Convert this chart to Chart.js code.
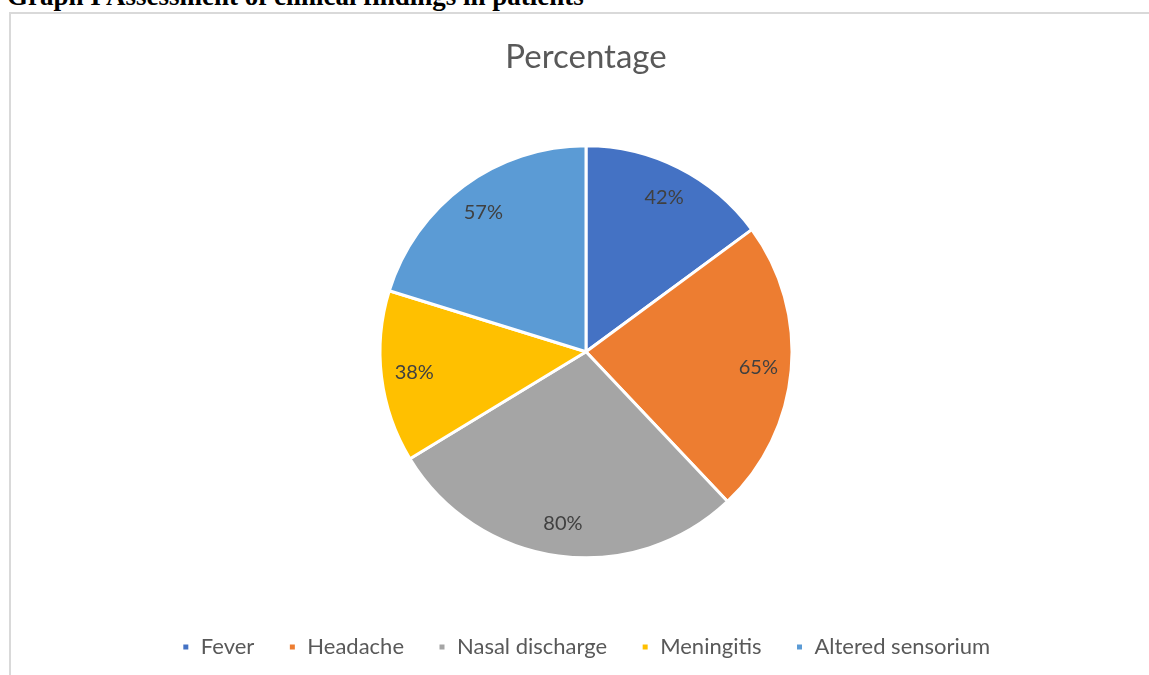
<!DOCTYPE html>
<html>
<head>
<meta charset="utf-8">
<script src="https://cdn.jsdelivr.net/npm/chart.js@4"></script>
<style>
  body { margin: 0; background: #fff; overflow: hidden; width: 1149px; height: 675px; position: relative; }
  #caption {
    position: absolute; left: 7px; top: -19px;
    font: bold 27px "Liberation Serif", "Times New Roman", serif;
    color: #000; white-space: nowrap;
  }
  #box {
    position: absolute; left: 9px; top: 12px;
    width: 1154px; height: 680px;
    border: 2px solid #d9d9d9; box-sizing: border-box;
  }
  #wrap { position: absolute; left: 0; top: 0; width: 1150px; height: 654px; }
</style>
</head>
<body>
<div id="caption">Graph I Assessment of clinical findings in patients</div>
<div id="box">
  <div id="wrap"><canvas id="clinicalChart"></canvas></div>
</div>
<script>
// Data
const findings = ['Fever', 'Headache', 'Nasal discharge', 'Meningitis', 'Altered sensorium'];
const percentages = [42, 65, 80, 38, 57];
const sliceColors = ['#4472C4', '#ED7D31', '#A5A5A5', '#FFC000', '#5B9BD5'];

// Plugin to draw the value labels inside each slice
const sliceLabels = {
    id: 'sliceLabels',
    afterDatasetsDraw(chart) {
        const ctx = chart.ctx;
        const meta = chart.getDatasetMeta(0);
        ctx.save();
        ctx.font = '20px Lato';
        ctx.fillStyle = '#404040';
        ctx.textAlign = 'center';
        ctx.textBaseline = 'middle';
        meta.data.forEach((arc, i) => {
            const mid = (arc.startAngle + arc.endAngle) / 2;
            const r = arc.outerRadius * 0.84;
            ctx.fillText(percentages[i] + '%', arc.x + Math.cos(mid) * r, arc.y + Math.sin(mid) * r);
        });
        ctx.restore();
    }
};

function renderChart() {
    const ctx = document.getElementById('clinicalChart').getContext('2d');
    new Chart(ctx, {
        type: 'pie',
        data: {
            labels: findings,
            datasets: [{
                data: percentages,
                backgroundColor: sliceColors,
                borderColor: '#ffffff',
                borderWidth: 3,
                radius: 206
            }]
        },
        options: {
            responsive: true,
            maintainAspectRatio: false,
            animation: false,
            plugins: {
                title: {
                    display: true,
                    text: 'Percentage',
                    color: '#595959',
                    font: { family: 'Lato', size: 33, weight: 'normal' },
                    padding: { top: 24, bottom: 24 }
                },
                legend: {
                    display: true,
                    position: 'bottom',
                    labels: {
                        color: '#595959',
                        font: { family: 'Lato', size: 22 },
                        boxWidth: 8,
                        boxHeight: 8,
                        padding: 34
                    }
                },
                tooltip: { enabled: false }
            }
        },
        plugins: [sliceLabels]
    });
}

document.addEventListener('DOMContentLoaded', renderChart);
</script>
</body>
</html>
